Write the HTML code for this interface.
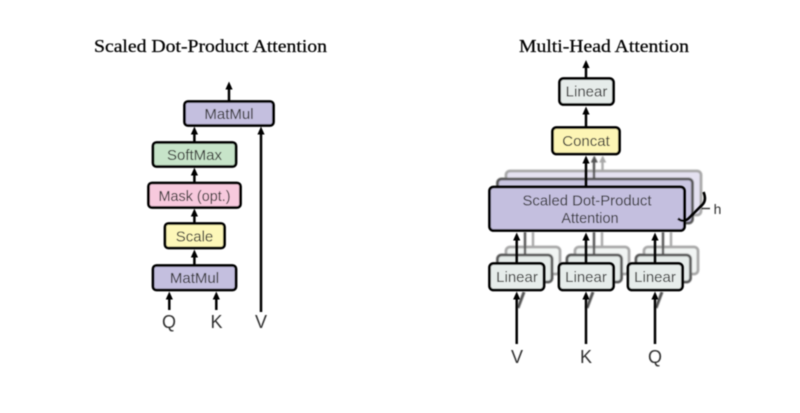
<!DOCTYPE html>
<html>
<head>
<meta charset="utf-8">
<style>
html,body{margin:0;padding:0;background:#fff;width:800px;height:413px;overflow:hidden}
svg{display:block}
.t{font-family:"Liberation Serif",serif;font-size:18px;fill:#000;stroke:#000;stroke-width:.25}
.l{font-family:"Liberation Sans",sans-serif;fill:#303030;text-anchor:middle}
.b{stroke:#000;stroke-width:2.8}
.ln{stroke:#000;stroke-width:2.5;fill:none}
</style>
</head>
<body>
<svg width="800" height="413" viewBox="0 0 800 413" xmlns="http://www.w3.org/2000/svg">
<defs>
<filter id="s" x="-5%" y="-5%" width="110%" height="110%"><feGaussianBlur stdDeviation="0.4"/></filter>
<filter id="g" x="-10%" y="-10%" width="120%" height="120%"><feGaussianBlur stdDeviation="0.8"/></filter>
</defs>
<rect width="800" height="413" fill="#fff"/>
<g filter="url(#g)">
<!-- ghost stacks: multi-head -->
<rect x="506" y="171" width="195" height="44" rx="4" fill="#e4e1f0" stroke="#a8a8a8" stroke-width="2.800"/>
<rect x="497.500" y="179" width="195" height="44" rx="4" fill="#c9c5e1" stroke="#555" stroke-width="2.800"/>
<g fill="#f1f4f3" stroke="#a8a8a8" stroke-width="2.800">
<rect x="506" y="247" width="54" height="27" rx="4"/>
<rect x="575" y="247" width="54" height="27" rx="4"/>
<rect x="644" y="247" width="54" height="27" rx="4"/>
</g>
<g fill="#e6ecea" stroke="#555" stroke-width="2.800">
<rect x="497.500" y="255" width="54.500" height="27" rx="4"/>
<rect x="567" y="255" width="54.500" height="27" rx="4"/>
<rect x="636" y="255" width="54.500" height="27" rx="4"/>
</g>
<g fill="none" stroke-width="2.400">
<path d="M533 232V247M602 232V247M671 232V247" stroke="#a8a8a8"/>
<path d="M525 232V255M594 232V255M663 232V255" stroke="#555"/>
<path d="M594 179V160" stroke="#555"/>
<path d="M602.500 171V160" stroke="#a8a8a8"/>
<path d="M524 292L518 308M593 292L587 308M662 292L656 308" stroke="#555" stroke-width="3"/>
</g>
<path d="M594.300 155.500l-3.600 7h7.200z" fill="#555"/>
<path d="M602.700 155.500l-3.600 7h7.200z" fill="#a8a8a8"/>
</g>
<g filter="url(#s)">
<text class="t" x="94" y="52" textLength="233" lengthAdjust="spacingAndGlyphs">Scaled Dot-Product Attention</text>
<text class="t" x="519" y="52" textLength="170" lengthAdjust="spacingAndGlyphs">Multi-Head Attention</text>

<!-- left connectors -->
<g class="ln">
<path d="M229 101V86"/><path d="M194.400 142V130"/><path d="M194.400 182V171"/><path d="M194.400 223V212"/><path d="M194.400 265V253"/>
<path d="M261 312V131"/><path d="M169.300 310V296"/><path d="M216.300 310V296"/>
</g>
<g fill="#000">
<path d="M229 81.500l-3.600 8h7.200z"/><path d="M194.400 126.500l-3.600 8h7.200z"/><path d="M194.400 167.500l-3.600 8h7.200z"/>
<path d="M194.400 208.500l-3.600 8h7.200z"/><path d="M194.400 249.500l-3.600 8h7.200z"/><path d="M261 126.500l-3.600 8h7.200z"/>
<path d="M169.300 291.500l-3.600 8h7.200z"/><path d="M216.300 291.500l-3.600 8h7.200z"/>
</g>
<!-- left boxes -->
<rect class="b" x="184.500" y="101.500" width="89" height="24" rx="3.500" fill="#c4bfdf"/>
<rect class="b" x="153" y="142.500" width="83" height="24" rx="3.500" fill="#c7e4c9"/>
<rect class="b" x="148.500" y="183" width="92" height="24.500" rx="3.500" fill="#f7c9dd"/>
<rect class="b" x="165" y="223.500" width="59.500" height="24.500" rx="3.500" fill="#fdf7b9"/>
<rect class="b" x="153" y="265.500" width="83" height="24.500" rx="3.500" fill="#c4bfdf"/>
<g font-size="15">
<text class="l" x="229" y="119">MatMul</text>
<text class="l" x="194.500" y="160" textLength="55" lengthAdjust="spacingAndGlyphs">SoftMax</text>
<text class="l" x="194.500" y="201" textLength="72" lengthAdjust="spacingAndGlyphs">Mask (opt.)</text>
<text class="l" x="194.500" y="241.500">Scale</text>
<text class="l" x="194.500" y="283">MatMul</text>
</g>
<g font-size="18">
<text class="l" x="169" y="328">Q</text>
<text class="l" x="216.500" y="328">K</text>
<text class="l" x="261" y="328">V</text>
</g>

<!-- right connectors -->
<g class="ln">
<path d="M586 78V64"/><path d="M586 127V112"/><path d="M586 187V160"/>
<path d="M516.700 263V238"/><path d="M586 263V238"/><path d="M655 263V238"/>
<path d="M516.700 344V296"/><path d="M586 344V296"/><path d="M655 344V296"/>
</g>
<g fill="#000">
<path d="M586 60l-3.600 8h7.200z"/><path d="M586 106.500l-3.600 8h7.200z"/><path d="M586 155.500l-3.600 8h7.200z"/>
<path d="M516.700 232.500l-3.600 8h7.200z"/><path d="M586 232.500l-3.600 8h7.200z"/><path d="M655 232.500l-3.600 8h7.200z"/>
<path d="M516.700 291.500l-3.600 8h7.200z"/><path d="M586 291.500l-3.600 8h7.200z"/><path d="M655 291.500l-3.600 8h7.200z"/>
</g>
<!-- right boxes -->
<rect class="b" x="559.500" y="78.500" width="54" height="26" rx="4" fill="#e6ecea"/>
<rect class="b" x="552.500" y="127.500" width="67" height="26.500" rx="4" fill="#fdf5b5"/>
<rect class="b" x="489.500" y="187" width="195" height="43.500" rx="4" fill="#c4bfdf"/>
<rect class="b" x="489.500" y="263.500" width="54.500" height="26.500" rx="4" fill="#e6ecea"/>
<rect class="b" x="559" y="263.500" width="54.500" height="26.500" rx="4" fill="#e6ecea"/>
<rect class="b" x="628" y="263.500" width="54.500" height="26.500" rx="4" fill="#e6ecea"/>
<g font-size="15">
<text class="l" x="586.500" y="96.500">Linear</text>
<text class="l" x="586" y="146">Concat</text>
<text class="l" x="587" y="205.500" font-size="14.500" textLength="129" lengthAdjust="spacingAndGlyphs">Scaled Dot-Product</text>
<text class="l" x="590" y="223" font-size="14.500">Attention</text>
<text class="l" x="517" y="282">Linear</text>
<text class="l" x="586" y="282">Linear</text>
<text class="l" x="655" y="282">Linear</text>
</g>
<g font-size="18">
<text class="l" x="517" y="363">V</text>
<text class="l" x="586" y="363">K</text>
<text class="l" x="655" y="363">Q</text>
</g>
<!-- brace -->
<path d="M678 218.500C682 222 686 221 689 218L703 204C705.500 201 705.500 197 703.500 192" fill="none" stroke="#000" stroke-width="2.600"/>
<path d="M701.500 208.500H710" stroke="#333" stroke-width="1.400"/>
<text class="l" x="717.500" y="214" font-size="14">h</text>
</g>
</svg>
</body>
</html>
